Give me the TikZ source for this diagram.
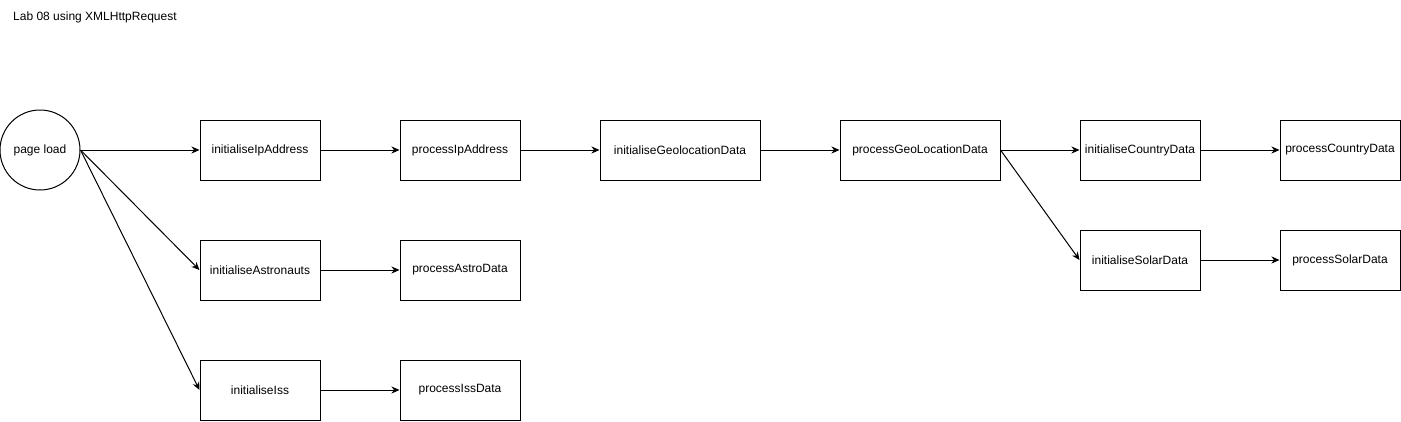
\documentclass[tikz,border=0pt]{standalone}
\usepackage{fontspec}
\setmainfont{Liberation Sans}
\usetikzlibrary{arrows.meta}
\begin{document}
\begin{tikzpicture}[x=1pt,y=-1pt,
  box/.style={draw,line width=1pt,minimum width=120pt,minimum height=60pt,inner sep=0pt,font=\fontsize{12}{14}\selectfont},
  widebox/.style={box,minimum width=160pt},
  startnode/.style={draw,circle,line width=1pt,minimum size=80pt,inner sep=0pt,font=\fontsize{12}{14}\selectfont},
  conn/.style={line width=1pt,-{Stealth[length=8pt,width=7pt,inset=2.5pt]}}]
\useasboundingbox (0,0) rectangle (1401,421);
\node[anchor=base west,inner sep=0pt,font=\fontsize{12}{14}\selectfont] (title) at (13,20) {Lab 08 using XMLHttpRequest};
\node[startnode] (pl) at (40,150) {page load};
\node[box] (iip) at (260,150) {initialiseIpAddress};
\node[box] (pip) at (460,150) {processIpAddress};
\node[widebox] (igeo) at (680,150) {initialiseGeolocationData};
\node[widebox] (pgeo) at (920,150) {processGeoLocationData};
\node[box] (icd) at (1140,150) {initialiseCountryData};
\node[box] (pcd) at (1340,150) {processCountryData};
\node[box] (isd) at (1140,260) {initialiseSolarData};
\node[box] (psd) at (1340,260) {processSolarData};
\node[box] (ia) at (260,270) {initialiseAstronauts};
\node[box] (pa) at (460,270) {processAstroData};
\node[box] (iis) at (260,390) {initialiseIss};
\node[box] (pis) at (460,390) {processIssData};
\draw[conn] (pl.east) -- (iip.west);
\draw[conn] (pl.east) -- (ia.west);
\draw[conn] (pl.east) -- (iis.west);
\draw[conn] (iip) -- (pip);
\draw[conn] (pip) -- (igeo);
\draw[conn] (igeo) -- (pgeo);
\draw[conn] (pgeo.east) -- (icd.west);
\draw[conn] (pgeo.east) -- (isd.west);
\draw[conn] (icd) -- (pcd);
\draw[conn] (isd) -- (psd);
\draw[conn] (ia) -- (pa);
\draw[conn] (iis) -- (pis);
\end{tikzpicture}
\end{document}
